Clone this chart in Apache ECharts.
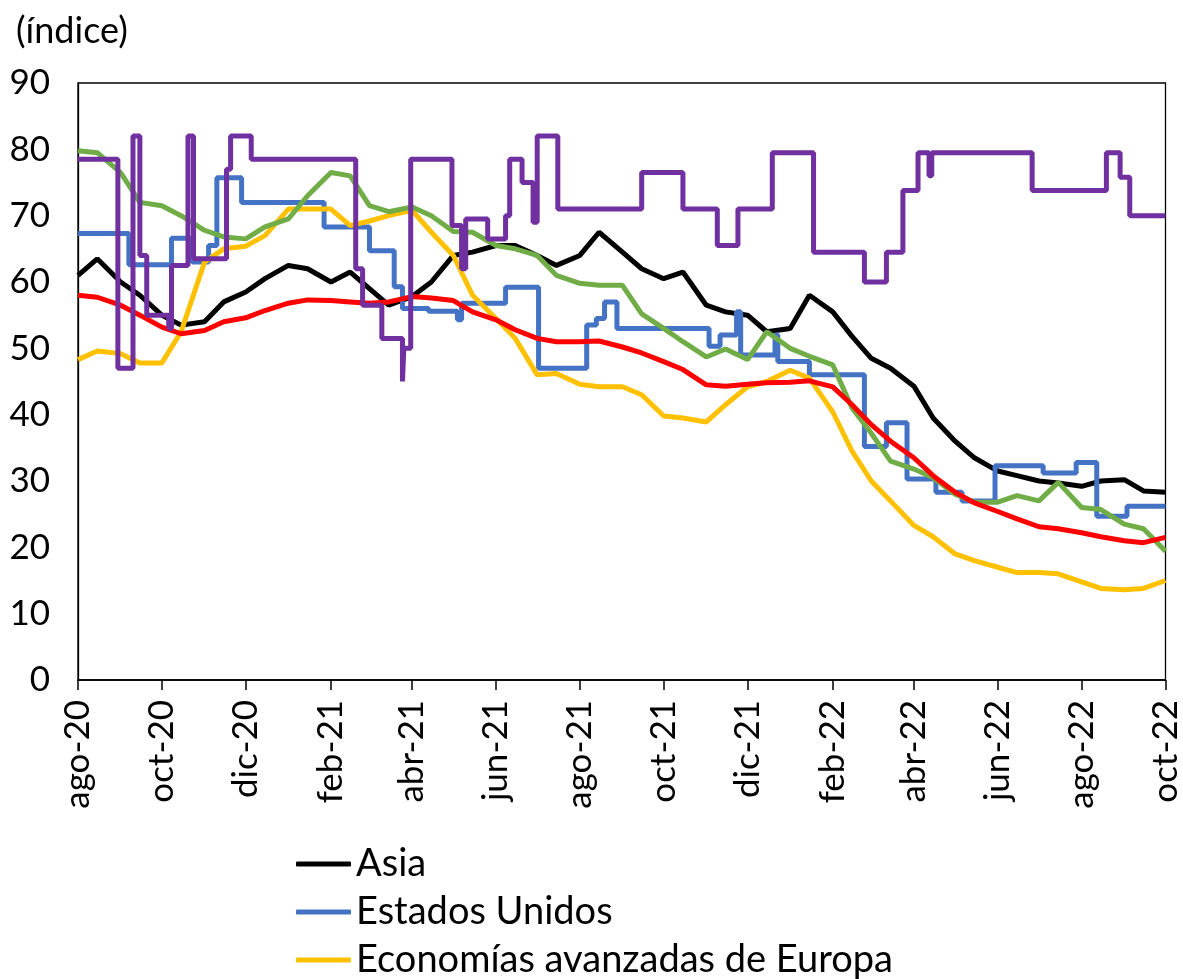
<!DOCTYPE html>
<html>
<head>
<meta charset="utf-8">
<script src="https://cdn.jsdelivr.net/npm/echarts@6/dist/echarts.min.js"></script>
<style>
  html, body { margin: 0; padding: 0; background: #fff; }
  #chart { width: 1183px; height: 979px; }
</style>
</head>
<body>
<div id="chart"></div>
<script>
// fechas quincenales para las series continuas
const fechas = [
  '2020-08-01', '2020-08-15', '2020-09-01', '2020-09-15', '2020-10-01', '2020-10-15',
  '2020-11-01', '2020-11-15', '2020-12-01', '2020-12-15',
  '2021-01-01', '2021-01-15', '2021-02-01', '2021-02-15', '2021-03-01', '2021-03-15',
  '2021-04-01', '2021-04-15', '2021-05-01', '2021-05-15', '2021-06-01', '2021-06-15',
  '2021-07-01', '2021-07-15', '2021-08-01', '2021-08-15', '2021-09-01', '2021-09-15',
  '2021-10-01', '2021-10-15', '2021-11-01', '2021-11-15', '2021-12-01', '2021-12-15',
  '2022-01-01', '2022-01-15', '2022-02-01', '2022-02-15', '2022-03-01', '2022-03-15',
  '2022-04-01', '2022-04-15', '2022-05-01', '2022-05-15', '2022-06-01', '2022-06-15',
  '2022-07-01', '2022-07-15', '2022-08-01', '2022-08-15', '2022-09-01', '2022-09-15',
  '2022-10-01'
]

const asia = [
  61, 63.5, 60, 58, 55, 53.5, 54, 57, 58.5, 60.5,
  62.5, 62, 60, 61.5, 59, 56.5, 57.8, 60, 64, 64.5,
  65.5, 65.5, 64, 62.5, 64, 67.5, 64.5, 62, 60.5, 61.5,
  56.5, 55.5, 55, 52.5, 53, 58, 55.5, 51.8, 48.5, 47,
  44.3, 39.5, 36, 33.5, 31.5, 30.8, 30, 29.7, 29.2, 30,
  30.2, 28.5, 28.3
]

const europaAvanzada = [
  48.3, 49.6, 49.2, 47.8, 47.8, 52.5, 63, 65, 65.4, 67,
  71, 71, 71, 68.5, 69.2, 70, 70.8, 67.5, 64, 58,
  54.5, 51.5, 46, 46.2, 44.6, 44.2, 44.2, 43, 39.8, 39.5,
  38.9, 41.5, 44.2, 45, 46.7, 45.5, 40.4, 34.5, 30, 27,
  23.3, 21.6, 19, 18, 17, 16.2, 16.2, 16, 14.8, 13.8,
  13.6, 13.8, 15
]

const americaLatina = [
  79.8, 79.5, 76.5, 72, 71.5, 70, 67.8, 66.8, 66.5, 68.3,
  69.5, 73, 76.5, 76, 71.5, 70.6, 71.3, 70, 67.6, 67.5,
  65.5, 65, 64, 61, 59.8, 59.5, 59.5, 55.2, 53, 51,
  48.7, 49.9, 48.3, 52.5, 50, 48.8, 47.5, 41, 37.2, 33,
  31.8, 30.5, 28, 26.8, 26.8, 27.8, 27, 29.8, 26, 25.7,
  23.5, 22.8, 19.4
]

const mundo = [
  58, 57.7, 56.5, 55, 53.2, 52.2, 52.7, 54, 54.6, 55.7,
  56.8, 57.3, 57.2, 57, 56.8, 57, 57.8, 57.6, 57.2, 55.5,
  54.3, 52.8, 51.5, 51, 51, 51.1, 50.2, 49.3, 48, 46.8,
  44.5, 44.3, 44.6, 44.8, 44.9, 45.1, 44.2, 41.5, 38.5, 36,
  33.5, 30.8, 28.3, 26.7, 25.4, 24.3, 23.1, 22.8, 22.2, 21.6,
  21, 20.7, 21.5
]

// series escalonadas: [fecha de cambio, nivel]
const estadosUnidos = [
  ['2020-08-01', 67.3], ['2020-09-07', 62.6], ['2020-10-08', 66.6], ['2020-10-23', 63],
  ['2020-11-04', 65.5], ['2020-11-10', 75.7], ['2020-11-28', 72], ['2021-01-27', 68.3],
  ['2021-03-01', 64.7], ['2021-03-19', 59.3], ['2021-03-25', 56], ['2021-04-13', 55.6],
  ['2021-05-04', 54.3], ['2021-05-07', 56.8], ['2021-06-08', 59.2], ['2021-07-02', 47],
  ['2021-08-06', 53.5], ['2021-08-13', 54.5], ['2021-08-19', 57], ['2021-08-28', 53],
  ['2021-11-03', 50.3], ['2021-11-11', 52], ['2021-11-23', 55.5], ['2021-11-26', 49],
  ['2021-12-21', 52], ['2021-12-23', 48], ['2022-01-15', 46], ['2022-02-24', 35.2],
  ['2022-03-12', 38.8], ['2022-03-27', 30.3], ['2022-04-17', 28.3], ['2022-05-06', 27],
  ['2022-05-30', 32.3], ['2022-07-04', 31.2], ['2022-07-28', 32.8], ['2022-08-12', 24.7],
  ['2022-09-03', 26.2], ['2022-10-01', 26.2]
]

const china = [
  ['2020-08-01', 78.5], ['2020-08-30', 47], ['2020-09-10', 82], ['2020-09-15', 64],
  ['2020-09-20', 55], ['2020-10-06', 53], ['2020-10-08', 62.5], ['2020-10-20', 82],
  ['2020-10-24', 63.5], ['2020-11-17', 77], ['2020-11-20', 82], ['2020-12-05', 78.5],
  ['2021-02-19', 62], ['2021-02-24', 56.5], ['2021-03-10', 51.5], ['2021-03-25', 45],
  ['2021-03-26', 50], ['2021-03-31', 78.5], ['2021-04-30', 68.5], ['2021-05-07', 62],
  ['2021-05-10', 69.5], ['2021-05-26', 66.5], ['2021-06-08', 70], ['2021-06-11', 78.5],
  ['2021-06-20', 75], ['2021-06-28', 69], ['2021-07-01', 82], ['2021-07-16', 71],
  ['2021-09-15', 76.5], ['2021-10-15', 71], ['2021-11-09', 65.5], ['2021-11-24', 71],
  ['2021-12-19', 79.5], ['2022-01-18', 64.5], ['2022-02-24', 60], ['2022-03-12', 64.5],
  ['2022-03-24', 73.8], ['2022-04-04', 79.5], ['2022-04-12', 76], ['2022-04-14', 79.5],
  ['2022-06-26', 73.8], ['2022-08-19', 79.5], ['2022-08-29', 75.8], ['2022-09-05', 70],
  ['2022-10-01', 70]
]

// marcas del eje horizontal
const xTickDates = [
  '2020-08-01', '2020-10-01', '2020-12-01', '2021-02-01', '2021-04-01', '2021-06-01',
  '2021-08-01', '2021-10-01', '2021-12-01', '2022-02-01', '2022-04-01', '2022-06-01',
  '2022-08-01', '2022-10-01'
]
const xTickLabels = [
  'ago-20', 'oct-20', 'dic-20', 'feb-21', 'abr-21', 'jun-21', 'ago-21',
  'oct-21', 'dic-21', 'feb-22', 'abr-22', 'jun-22', 'ago-22', 'oct-22'
]

const FONT = 'Lato, "Open Sans", sans-serif'
const ts = d => echarts.time.parse(d).getTime()
const tickTimes = xTickDates.map(ts)

function lineSeries (name, color, data, step) {
  return {
    name: name,
    type: 'line',
    data: data.map(p => [ts(p[0]), p[1]]),
    step: step || false,
    symbol: 'none',
    showSymbol: false,
    lineStyle: { color: color, width: 5 },
    itemStyle: { color: color }
  }
}

const pairs = vals => fechas.map((d, i) => [d, vals[i]])

const chart = echarts.init(document.getElementById('chart'), null, { renderer: 'canvas' })

const option = {
  animation: false,
  backgroundColor: '#fff',
  title: {
    text: '(índice)',
    left: 11,
    top: 8,
    textStyle: { fontFamily: FONT, fontSize: 36, fontWeight: 'normal', color: '#000' }
  },
  grid: {
    left: 78,
    right: 17,
    top: 83,
    bottom: 299,
    show: true,
    borderColor: '#000',
    borderWidth: 1.3,
    backgroundColor: 'transparent'
  },
  legend: {
    data: ['Asia', 'Estados Unidos', 'Economías avanzadas de Europa'],
    orient: 'vertical',
    left: 296,
    top: 845,
    height: 200,
    padding: 0,
    itemWidth: 55,
    itemHeight: 5,
    itemGap: 10,
    icon: 'roundRect',
    textStyle: { fontFamily: FONT, fontSize: 38, lineHeight: 38, color: '#000' }
  },
  xAxis: {
    type: 'value',
    min: tickTimes[0],
    max: tickTimes[tickTimes.length - 1],
    axisLine: { show: true, lineStyle: { color: '#000', width: 1.5 } },
    axisTick: { show: true, length: 10, customValues: tickTimes, lineStyle: { color: '#000', width: 1.5 } },
    axisLabel: {
      customValues: tickTimes,
      rotate: 90,
      margin: 20,
      fontFamily: FONT,
      fontSize: 35,
      color: '#000',
      formatter: function (v) {
        const i = tickTimes.indexOf(v)
        return i >= 0 ? xTickLabels[i] : ''
      }
    },
    splitLine: { show: false }
  },
  yAxis: {
    type: 'value',
    min: 0,
    max: 90,
    interval: 10,
    axisLine: { show: true, lineStyle: { color: '#000', width: 1.3 } },
    axisTick: { show: false },
    axisLabel: { margin: 28, fontFamily: FONT, fontSize: 35, color: '#000' },
    splitLine: { show: false }
  },
  series: [
    lineSeries('Asia', '#000000', pairs(asia)),
    lineSeries('Estados Unidos', '#4472C4', estadosUnidos, 'end'),
    lineSeries('Economías avanzadas de Europa', '#FFC000', pairs(europaAvanzada)),
    lineSeries('América Latina', '#70AD47', pairs(americaLatina)),
    lineSeries('Mundo', '#FF0000', pairs(mundo)),
    lineSeries('China', '#7030A0', china, 'end')
  ]
}

chart.setOption(option)
</script>
</body>
</html>
